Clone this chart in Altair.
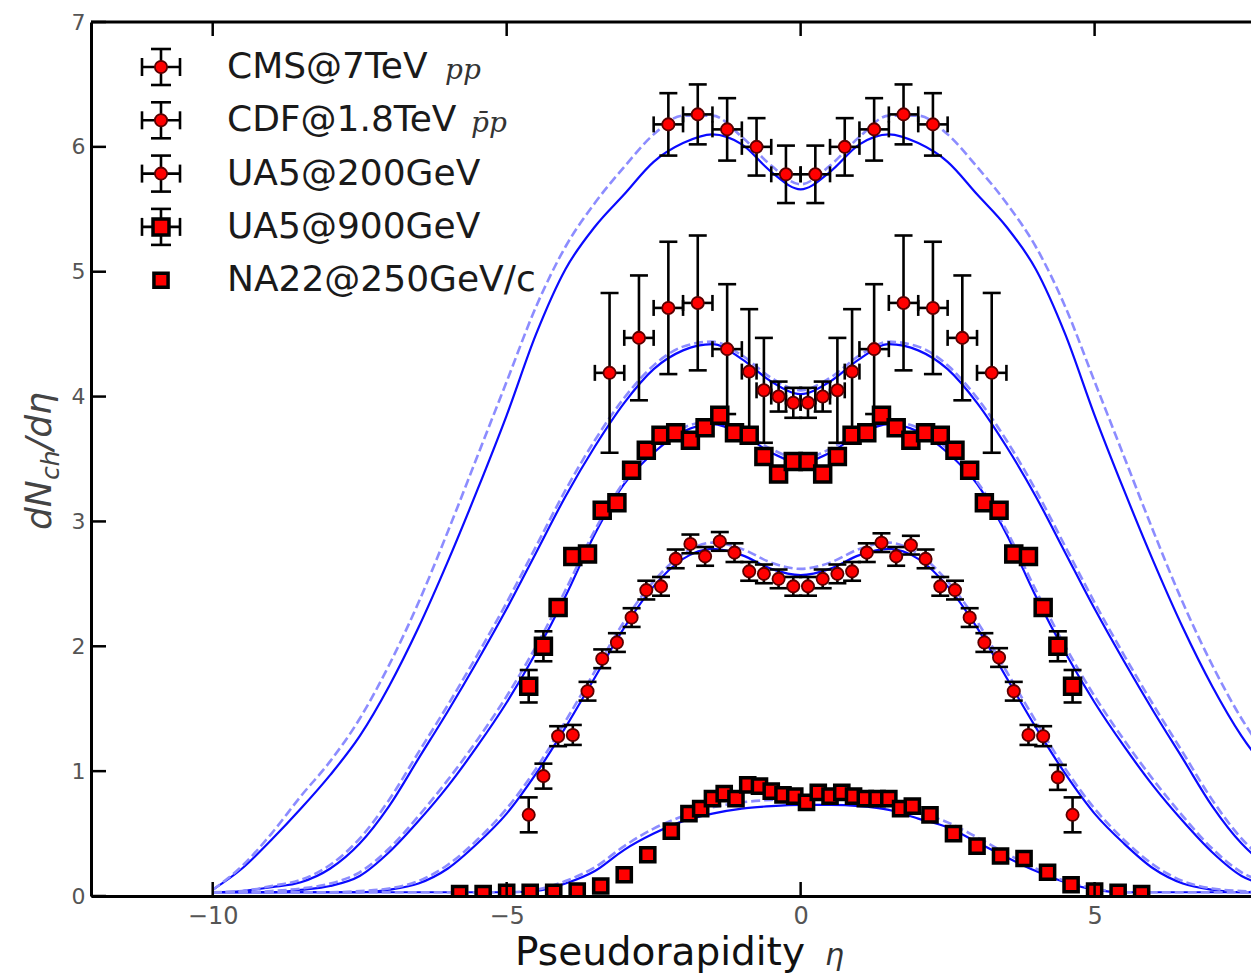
import altair as alt
import pandas as pd

# ---------------- data ----------------
eta_grid = [-10.0, -9.5, -9.0, -8.5, -8.0, -7.5, -7.0, -6.5, -6.0, -5.5, -5.0,
            -4.5, -4.0, -3.5, -3.0, -2.5, -2.0, -1.5, -1.0, -0.5, 0.0,
            0.5, 1.0, 1.5, 2.0, 2.5, 3.0, 3.5, 4.0, 4.5, 5.0,
            5.5, 6.0, 6.5, 7.0, 7.5, 8.0, 8.5, 9.0, 9.5, 10.0]

cms_model = [0.05, 0.22, 0.45, 0.70, 0.97, 1.28, 1.68, 2.15, 2.68, 3.25, 3.85,
             4.50, 5.02, 5.36, 5.62, 5.88, 6.03, 6.10, 6.02, 5.80, 5.66,
             5.80, 6.02, 6.10, 6.03, 5.88, 5.62, 5.36, 5.02, 4.50, 3.85,
             3.25, 2.68, 2.15, 1.68, 1.28, 0.97, 0.70, 0.45, 0.22, 0.05]
cms_model_b = [0.05, 0.24, 0.50, 0.80, 1.08, 1.42, 1.85, 2.35, 2.92, 3.52, 4.12,
               4.72, 5.20, 5.55, 5.84, 6.10, 6.25, 6.25, 6.08, 5.85, 5.70,
               5.85, 6.08, 6.25, 6.25, 6.10, 5.84, 5.55, 5.20, 4.72, 4.12,
               3.52, 2.92, 2.35, 1.85, 1.42, 1.08, 0.80, 0.50, 0.24, 0.05]
cdf_model = [0.03, 0.04, 0.07, 0.11, 0.22, 0.42, 0.72, 1.10, 1.48, 1.88, 2.30,
             2.75, 3.20, 3.60, 3.95, 4.22, 4.37, 4.42, 4.30, 4.12, 4.02,
             4.12, 4.30, 4.42, 4.37, 4.22, 3.95, 3.60, 3.20, 2.75, 2.30,
             1.88, 1.48, 1.10, 0.72, 0.42, 0.22, 0.11, 0.07, 0.04, 0.03]
cdf_model_b = [0.03, 0.04, 0.08, 0.13, 0.25, 0.46, 0.77, 1.15, 1.53, 1.93, 2.35,
               2.80, 3.25, 3.65, 3.99, 4.25, 4.40, 4.44, 4.33, 4.15, 4.05,
               4.15, 4.33, 4.44, 4.40, 4.25, 3.99, 3.65, 3.25, 2.80, 2.35,
               1.93, 1.53, 1.15, 0.77, 0.46, 0.25, 0.13, 0.08, 0.04, 0.03]
ua5_900_model = [0.03, 0.03, 0.03, 0.05, 0.08, 0.16, 0.35, 0.60, 0.88, 1.20, 1.55,
                 1.95, 2.40, 2.90, 3.30, 3.55, 3.72, 3.78, 3.70, 3.55, 3.47,
                 3.55, 3.70, 3.78, 3.72, 3.55, 3.30, 2.90, 2.40, 1.95, 1.55,
                 1.20, 0.88, 0.60, 0.35, 0.16, 0.08, 0.05, 0.03, 0.03, 0.03]
ua5_900_model_b = [0.03, 0.03, 0.04, 0.06, 0.10, 0.19, 0.38, 0.64, 0.93, 1.25, 1.60,
                   2.00, 2.45, 2.93, 3.32, 3.58, 3.75, 3.80, 3.72, 3.58, 3.50,
                   3.58, 3.72, 3.80, 3.75, 3.58, 3.32, 2.93, 2.45, 2.00, 1.60,
                   1.25, 0.93, 0.64, 0.38, 0.19, 0.10, 0.06, 0.04, 0.03, 0.03]
ua5_200_model = [0.03, 0.03, 0.03, 0.03, 0.03, 0.03, 0.05, 0.10, 0.22, 0.42, 0.66,
                 0.98, 1.35, 1.75, 2.15, 2.48, 2.70, 2.78, 2.73, 2.62, 2.57,
                 2.62, 2.73, 2.78, 2.70, 2.48, 2.15, 1.75, 1.35, 0.98, 0.66,
                 0.42, 0.22, 0.10, 0.05, 0.03, 0.03, 0.03, 0.03, 0.03, 0.03]
ua5_200_model_b = [0.03, 0.03, 0.03, 0.03, 0.03, 0.04, 0.06, 0.12, 0.25, 0.45, 0.70,
                   1.02, 1.40, 1.80, 2.20, 2.52, 2.74, 2.83, 2.78, 2.67, 2.62,
                   2.67, 2.78, 2.83, 2.74, 2.52, 2.20, 1.80, 1.40, 1.02, 0.70,
                   0.45, 0.25, 0.12, 0.06, 0.04, 0.03, 0.03, 0.03, 0.03, 0.03]
na22_model = [0.03, 0.03, 0.03, 0.03, 0.03, 0.03, 0.03, 0.03, 0.03, 0.03, 0.03,
              0.04, 0.10, 0.20, 0.37, 0.50, 0.60, 0.66, 0.70, 0.72, 0.73,
              0.73, 0.72, 0.69, 0.62, 0.55, 0.43, 0.31, 0.20, 0.11, 0.05,
              0.03, 0.03, 0.03, 0.03, 0.03, 0.03, 0.03, 0.03, 0.03, 0.03]
na22_model_b = [0.03, 0.03, 0.03, 0.03, 0.03, 0.03, 0.03, 0.03, 0.03, 0.03, 0.03,
                0.05, 0.12, 0.23, 0.40, 0.54, 0.64, 0.71, 0.75, 0.77, 0.78,
                0.78, 0.77, 0.74, 0.67, 0.59, 0.47, 0.34, 0.22, 0.12, 0.06,
                0.03, 0.03, 0.03, 0.03, 0.03, 0.03, 0.03, 0.03, 0.03, 0.03]

cms_eta = [-2.25, -1.75, -1.25, -0.75, -0.25, 0.25, 0.75, 1.25, 1.75, 2.25]
cms_val = [6.18, 6.26, 6.14, 6.00, 5.78, 5.78, 6.00, 6.14, 6.26, 6.18]
cms_yerr = [0.25, 0.24, 0.25, 0.23, 0.23, 0.23, 0.23, 0.25, 0.24, 0.25]
cms_xerr = [0.25, 0.25, 0.25, 0.25, 0.25, 0.25, 0.25, 0.25, 0.25, 0.25]

cdf_eta = [-3.25, -2.75, -2.25, -1.75, -1.25, -0.875, -0.625, -0.375, -0.125,
           0.125, 0.375, 0.625, 0.875, 1.25, 1.75, 2.25, 2.75, 3.25]
cdf_val = [4.19, 4.47, 4.71, 4.75, 4.38, 4.20, 4.05, 4.00, 3.95,
           3.95, 4.00, 4.05, 4.20, 4.38, 4.75, 4.71, 4.47, 4.19]
cdf_yerr = [0.64, 0.50, 0.53, 0.54, 0.52, 0.50, 0.42, 0.12, 0.12,
            0.12, 0.12, 0.42, 0.50, 0.52, 0.54, 0.53, 0.50, 0.64]
cdf_xerr = [0.25, 0.25, 0.25, 0.25, 0.25, 0.125, 0.125, 0.125, 0.125,
            0.125, 0.125, 0.125, 0.125, 0.25, 0.25, 0.25, 0.25, 0.25]

ua5_200_eta = [-4.625, -4.375, -4.125, -3.875, -3.625, -3.375, -3.125, -2.875, -2.625, -2.375,
               -2.125, -1.875, -1.625, -1.375, -1.125, -0.875, -0.625, -0.375, -0.125,
               0.125, 0.375, 0.625, 0.875, 1.125, 1.375, 1.625, 1.875, 2.125,
               2.375, 2.625, 2.875, 3.125, 3.375, 3.625, 3.875, 4.125, 4.375, 4.625]
ua5_200_val = [0.65, 0.96, 1.28, 1.29, 1.64, 1.90, 2.03, 2.23, 2.45, 2.48,
               2.70, 2.82, 2.72, 2.84, 2.75, 2.60, 2.58, 2.54, 2.48,
               2.48, 2.54, 2.58, 2.60, 2.75, 2.83, 2.72, 2.81, 2.70,
               2.48, 2.45, 2.23, 2.03, 1.91, 1.64, 1.29, 1.28, 0.95, 0.65]
ua5_200_yerr = [0.14, 0.10, 0.08, 0.08, 0.075, 0.075, 0.075, 0.075, 0.075, 0.075,
                0.075, 0.075, 0.075, 0.075, 0.075, 0.075, 0.075, 0.075, 0.075,
                0.075, 0.075, 0.075, 0.075, 0.075, 0.075, 0.075, 0.075, 0.075,
                0.075, 0.075, 0.075, 0.075, 0.075, 0.075, 0.08, 0.08, 0.10, 0.14]

ua5_900_eta = ua5_200_eta
ua5_900_val = [1.68, 2.00, 2.31, 2.72, 2.74, 3.09, 3.15, 3.41, 3.57, 3.69,
               3.71, 3.65, 3.75, 3.85, 3.71, 3.69, 3.52, 3.38, 3.48,
               3.48, 3.38, 3.52, 3.69, 3.71, 3.85, 3.75, 3.65, 3.71,
               3.69, 3.57, 3.41, 3.15, 3.09, 2.74, 2.72, 2.31, 2.00, 1.68]
ua5_900_yerr = [0.13, 0.12, 0.05, 0.05, 0.05, 0.05, 0.05, 0.05, 0.05, 0.05,
                0.05, 0.05, 0.05, 0.05, 0.05, 0.05, 0.05, 0.05, 0.05,
                0.05, 0.05, 0.05, 0.05, 0.05, 0.05, 0.05, 0.05, 0.05,
                0.05, 0.05, 0.05, 0.05, 0.05, 0.05, 0.05, 0.05, 0.12, 0.13]

na22_eta = [-5.8, -5.4, -5.0, -4.6, -4.2, -3.8, -3.4, -3.0, -2.6, -2.2,
            -1.9, -1.7, -1.5, -1.3, -1.1, -0.9, -0.7, -0.5, -0.3, -0.1,
            0.1, 0.3, 0.5, 0.7, 0.9, 1.1, 1.3, 1.5, 1.7, 1.9,
            2.2, 2.6, 3.0, 3.4, 3.8, 4.2, 4.6, 5.0, 5.4, 5.8]
na22_val = [0.02, 0.02, 0.03, 0.03, 0.03, 0.04, 0.08, 0.17, 0.33, 0.52,
            0.66, 0.70, 0.78, 0.82, 0.78, 0.89, 0.88, 0.84, 0.81, 0.80,
            0.75, 0.83, 0.80, 0.83, 0.80, 0.78, 0.78, 0.78, 0.70, 0.72,
            0.65, 0.50, 0.40, 0.32, 0.30, 0.19, 0.09, 0.04, 0.03, 0.02]

legend_labels = ["CMS@7TeV", "CDF@1.8TeV", "UA5@200GeV", "UA5@900GeV", "NA22@250GeV/c"]
legend_suffix = ["pp", "p\u0304p", "", "", ""]
x_ticks = [-10, -5, 0, 5]
y_ticks = [0, 1, 2, 3, 4, 5, 6, 7]

# ---------------- layout / style ----------------
W, H = 1160, 874
RED = "#ff0000"
xs = alt.Scale(domain=[-12.07, 7.66], nice=False, zero=False)
ys = alt.Scale(domain=[0, 7], nice=False, zero=False)

x_axis = alt.Axis(values=x_ticks, tickSize=0, labelFontSize=24, labelColor="#555555",
                  labelFont="DejaVu Sans", labelPadding=8, domainColor="black",
                  domainWidth=3, grid=False, title=None, zindex=1, labelFlush=False)
y_axis = alt.Axis(values=y_ticks, format="d", tickSize=0, labelFontSize=22,
                  labelColor="#555555", labelFont="DejaVu Sans", labelPadding=6,
                  domainColor="black", domainWidth=3, grid=False, title=None,
                  zindex=1, labelFlush=False)


def X(f):
    return alt.X(f, type="quantitative", scale=xs, axis=x_axis, title=None)


def Y(f):
    return alt.Y(f, type="quantitative", scale=ys, axis=y_axis, title=None)


def curve_frame(d):
    rows = []
    for name, vals in d.items():
        for e, v in zip(eta_grid, vals):
            rows.append({"eta": e, "val": v, "model": name})
    return pd.DataFrame(rows)


solid_df = curve_frame({"cms": cms_model, "cdf": cdf_model, "u900": ua5_900_model,
                        "u200": ua5_200_model, "na22": na22_model})
dash_df = curve_frame({"cms": cms_model_b, "cdf": cdf_model_b, "u900": ua5_900_model_b,
                       "u200": ua5_200_model_b, "na22": na22_model_b})

dashed = alt.Chart(dash_df).mark_line(clip=True, color="#8c8cff", strokeWidth=2.6,
                                      strokeDash=[9, 4], interpolate="monotone").encode(
    x=X("eta"), y=Y("val"), detail="model:N")
solid = alt.Chart(solid_df).mark_line(clip=True, color="#0a0aff", strokeWidth=2.2,
                                      interpolate="monotone").encode(
    x=X("eta"), y=Y("val"), detail="model:N")


def err_frame(eta, val, yerr, xerr=None):
    df = pd.DataFrame({"eta": eta, "val": val, "yerr": yerr})
    df["lo"] = df["val"] - df["yerr"]
    df["hi"] = df["val"] + df["yerr"]
    if xerr is not None:
        df["xlo"] = df["eta"] - pd.Series(xerr)
        df["xhi"] = df["eta"] + pd.Series(xerr)
    return df


def errbars(df, with_x):
    b = alt.Chart(df)
    lay = [
        b.mark_rule(color="black", strokeWidth=2.6, clip=True).encode(
            x=X("eta"), y=Y("lo"), y2=alt.Y2("hi")),
        b.mark_tick(orient="horizontal", color="black", size=18, thickness=2.6,
                    opacity=1, clip=True).encode(x=X("eta"), y=Y("lo")),
        b.mark_tick(orient="horizontal", color="black", size=18, thickness=2.6,
                    opacity=1, clip=True).encode(x=X("eta"), y=Y("hi")),
    ]
    if with_x:
        lay += [
            b.mark_rule(color="black", strokeWidth=2.6, clip=True).encode(
                x=X("xlo"), x2=alt.X2("xhi"), y=Y("val")),
            b.mark_tick(orient="vertical", color="black", size=16, thickness=2.6,
                        opacity=1, clip=True).encode(x=X("xlo"), y=Y("val")),
            b.mark_tick(orient="vertical", color="black", size=16, thickness=2.6,
                        opacity=1, clip=True).encode(x=X("xhi"), y=Y("val")),
        ]
    return lay


cms_df = err_frame(cms_eta, cms_val, cms_yerr, cms_xerr)
cdf_df = err_frame(cdf_eta, cdf_val, cdf_yerr, cdf_xerr)
u200_df = err_frame(ua5_200_eta, ua5_200_val, ua5_200_yerr)
u900_df = err_frame(ua5_900_eta, ua5_900_val, ua5_900_yerr)
na22_df = pd.DataFrame({"eta": na22_eta, "val": na22_val})


def circles(df):
    return alt.Chart(df).mark_circle(size=150, color=RED, stroke="#5a0000", strokeWidth=1.8,
                                     opacity=1, clip=True).encode(x=X("eta"), y=Y("val"))


def squares(df, size):
    return alt.Chart(df).mark_square(size=size, color=RED, stroke="black", strokeWidth=3.5,
                                     opacity=1, clip=True).encode(x=X("eta"), y=Y("val"))


# inward ticks and top frame line
xt = pd.DataFrame({"t": x_ticks})
yt = pd.DataFrame({"t": y_ticks})
frame = [
    alt.Chart(pd.DataFrame({"t": [7]})).mark_rule(color="black", strokeWidth=3).encode(y=Y("t")),
    alt.Chart(xt).mark_rule(color="black", strokeWidth=2.5).encode(
        x=X("t"), y=alt.value(H), y2=alt.value(H - 14)),
    alt.Chart(xt).mark_rule(color="black", strokeWidth=2.5).encode(
        x=X("t"), y=alt.value(0), y2=alt.value(14)),
    alt.Chart(yt).mark_rule(color="black", strokeWidth=2.5).encode(
        y=Y("t"), x=alt.value(0), x2=alt.value(15)),
]

# legend
one = pd.DataFrame({"a": [0]})
legend = []
LX, TX = 70, 136
for i, lab in enumerate(legend_labels):
    ry = 45 + i * 53.3
    if i < 4:
        legend += [
            alt.Chart(one).mark_rule(color="black", strokeWidth=2.6).encode(
                x=alt.value(LX), y=alt.value(ry - 18), y2=alt.value(ry + 18)),
            alt.Chart(one).mark_rule(color="black", strokeWidth=2.6).encode(
                x=alt.value(LX - 10), x2=alt.value(LX + 10), y=alt.value(ry - 18)),
            alt.Chart(one).mark_rule(color="black", strokeWidth=2.6).encode(
                x=alt.value(LX - 10), x2=alt.value(LX + 10), y=alt.value(ry + 18)),
            alt.Chart(one).mark_rule(color="black", strokeWidth=2.6).encode(
                x=alt.value(LX - 19), x2=alt.value(LX + 19), y=alt.value(ry)),
            alt.Chart(one).mark_rule(color="black", strokeWidth=2.6).encode(
                x=alt.value(LX - 19), y=alt.value(ry - 9), y2=alt.value(ry + 9)),
            alt.Chart(one).mark_rule(color="black", strokeWidth=2.6).encode(
                x=alt.value(LX + 19), y=alt.value(ry - 9), y2=alt.value(ry + 9)),
        ]
    if i < 3:
        legend.append(alt.Chart(one).mark_circle(size=150, color=RED, stroke="#5a0000",
                                                 strokeWidth=1.8, opacity=1).encode(
            x=alt.value(LX), y=alt.value(ry)))
    else:
        legend.append(alt.Chart(one).mark_square(size=256 if i == 3 else 200, color=RED,
                                                 stroke="black", strokeWidth=3.5,
                                                 opacity=1).encode(
            x=alt.value(LX), y=alt.value(ry)))
    legend.append(alt.Chart(one).mark_text(text=lab, font="DejaVu Sans", fontSize=36,
                                           color="#1a1a1a", align="left",
                                           baseline="middle").encode(
        x=alt.value(TX), y=alt.value(ry)))
    if legend_suffix[i]:
        legend.append(alt.Chart(one).mark_text(text=legend_suffix[i], font="DejaVu Serif",
                                               fontStyle="italic", fontSize=28,
                                               color="#333333", align="left",
                                               baseline="middle").encode(
            x=alt.value(TX + (218 if i == 0 else 244)), y=alt.value(ry + 4)))

# axis titles
titles = [
    alt.Chart(one).mark_text(text="Pseudorapidity", font="DejaVu Sans", fontSize=39,
                             color="#111111", align="left", baseline="alphabetic").encode(
        x=alt.value(424), y=alt.value(943)),
    alt.Chart(one).mark_text(text="\u03b7", font="DejaVu Sans", fontStyle="italic",
                             fontSize=30, color="#333333", align="left",
                             baseline="alphabetic").encode(
        x=alt.value(734), y=alt.value(943)),
    alt.Chart(one).mark_text(text="dN", font="DejaVu Sans", fontStyle="italic", fontSize=36,
                             color="#444444", angle=270, align="left",
                             baseline="alphabetic").encode(
        x=alt.value(-40), y=alt.value(508)),
    alt.Chart(one).mark_text(text="ch", font="DejaVu Sans", fontStyle="italic", fontSize=25,
                             color="#444444", angle=270, align="left",
                             baseline="alphabetic").encode(
        x=alt.value(-32), y=alt.value(458)),
    alt.Chart(one).mark_text(text="/d\u03b7", font="DejaVu Sans", fontStyle="italic",
                             fontSize=36, color="#444444", angle=270, align="left",
                             baseline="alphabetic").encode(
        x=alt.value(-40), y=alt.value(428)),
]

layers = ([solid, dashed]
          + errbars(cms_df, True) + errbars(cdf_df, True)
          + errbars(u200_df, False) + errbars(u900_df, False)
          + [circles(cms_df), circles(cdf_df), circles(u200_df),
             squares(u900_df, 256), squares(na22_df, 200)]
          + frame + legend + titles)

chart = alt.layer(*layers).properties(
    width=W, height=H,
    padding={"left": 83, "top": 14, "right": 0, "bottom": 82},
    autosize=alt.AutoSizeParams(type="none"),
).configure_view(stroke=None)

chart.save("out.html", embed_options={"renderer": "svg", "actions": False})
